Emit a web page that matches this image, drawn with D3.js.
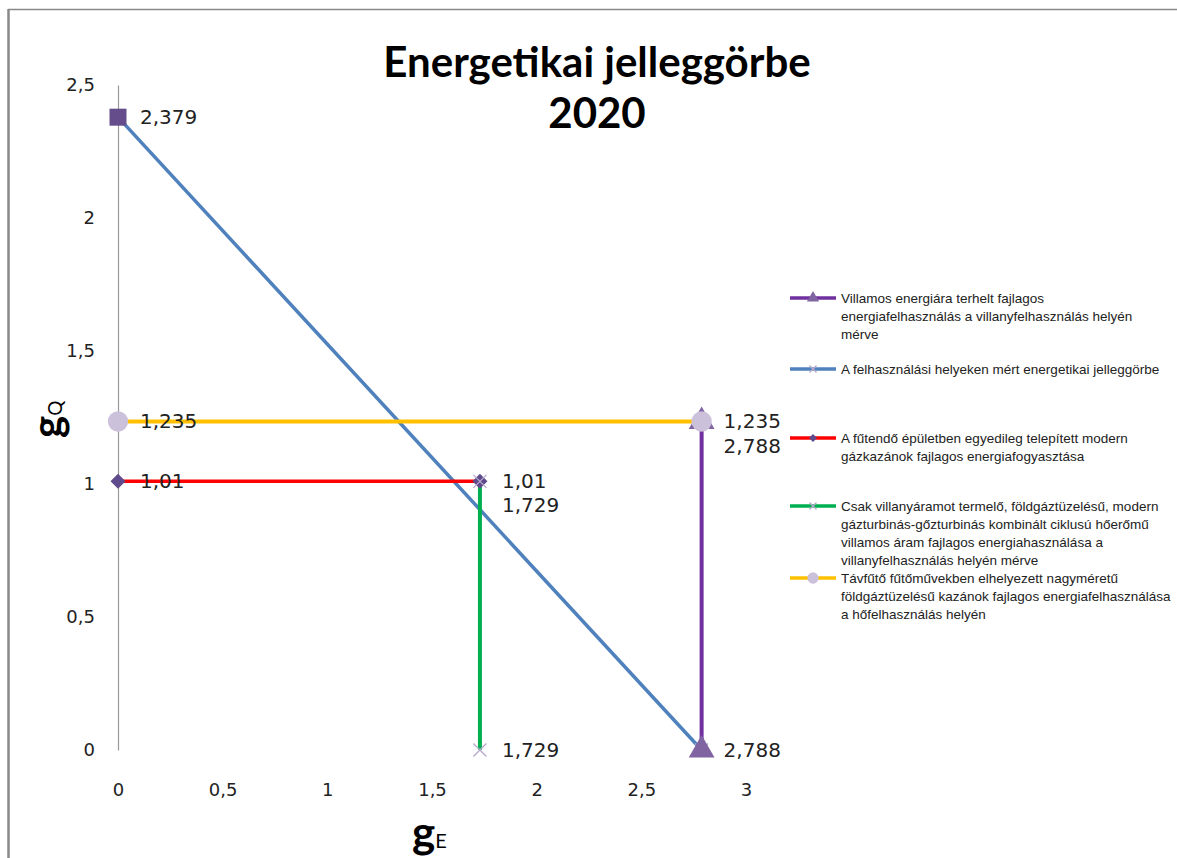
<!DOCTYPE html>
<html lang="hu">
<head>
<meta charset="UTF-8">
<script src="https://d3js.org/d3.v7.min.js"></script>
<title>Energetikai jelleggörbe</title>
<style>
  body { margin: 0; background: #fff; }
  svg { display: block; }
  .tick text { font-family: "DejaVu Sans", sans-serif; font-size: 18px; fill: #222; }
  .lbl { font-family: "DejaVu Sans", sans-serif; font-size: 20px; fill: #222; }
  .leg { font-family: "Liberation Sans", sans-serif; font-size: 13.5px; fill: #222; }
</style>
</head>
<body>
<svg width="1177" height="858"></svg>
<script>
// series: name, x values, y values, labels shown at each point
const seriesNames = [
  "Villamos energiára terhelt fajlagos|energiafelhasználás a villanyfelhasználás helyén|mérve",
  "A felhasználási helyeken mért energetikai jelleggörbe",
  "A fűtendő épületben egyedileg telepített modern|gázkazánok fajlagos energiafogyasztása",
  "Csak villanyáramot termelő, földgáztüzelésű, modern|gázturbinás-gőzturbinás kombinált ciklusú hőerőmű|villamos áram fajlagos energiahasználása a|villanyfelhasználás helyén mérve",
  "Távfűtő fűtőművekben elhelyezett nagyméretű|földgáztüzelésű kazánok fajlagos energiafelhasználása|a hőfelhasználás helyén"
];
const purpleX = [2.788, 2.788], purpleY = [0, 1.235];
const blueX = [0, 2.788],       blueY = [2.379, 0];
const redX = [0, 1.729],        redY = [1.01, 1.01];
const greenX = [1.729, 1.729],  greenY = [0, 1.01];
const yellowX = [0, 2.788],     yellowY = [1.235, 1.235];
const purpleLabels = ["2,788", "2,788"];
const blueLabels = ["2,379", ""];
const redLabels = ["1,01", "1,01"];
const greenLabels = ["1,729", "1,729"];
const yellowLabels = ["1,235", "1,235"];
const xTicks = [0, 0.5, 1, 1.5, 2, 2.5, 3];
const yTicks = [0, 0.5, 1, 1.5, 2, 2.5];

const svg = d3.select("svg");
const x = d3.scaleLinear().domain([0, 3]).range([118, 746]);
const y = d3.scaleLinear().domain([0, 2.5]).range([750, 85]);
const fmt = d => String(d).replace(".", ",");

// frame
svg.append("line").attr("x1", 8).attr("x2", 1177).attr("y1", 9.5).attr("y2", 9.5).attr("stroke", "#888").attr("stroke-width", 1.5);
svg.append("line").attr("x1", 8.5).attr("x2", 8.5).attr("y1", 9).attr("y2", 858).attr("stroke", "#888").attr("stroke-width", 2.5);

// title
svg.append("text").attr("x", 597).attr("y", 77).attr("text-anchor", "middle")
  .style("font-family", "Lato, 'Open Sans', sans-serif").style("font-weight", "bold").style("font-size", "42px")
  .text("Energetikai jelleggörbe");
svg.append("text").attr("x", 597).attr("y", 128).attr("text-anchor", "middle")
  .style("font-family", "Lato, 'Open Sans', sans-serif").style("font-weight", "bold").style("font-size", "42px")
  .text("2020");

// axes
const yAxis = svg.append("g").attr("transform", `translate(${x(0)},0)`)
  .call(d3.axisLeft(y).tickValues(yTicks).tickFormat(fmt).tickSize(0).tickPadding(23));
yAxis.select(".domain").attr("stroke", "#999").attr("stroke-width", 1.2);
const xAxis = svg.append("g").attr("transform", `translate(0,${y(0)})`)
  .call(d3.axisBottom(x).tickValues(xTicks).tickFormat(fmt).tickSize(0).tickPadding(33));
xAxis.select(".domain").remove();

// axis titles
const gx = svg.append("text").attr("x", 412).attr("y", 848).style("font-family", "Lato, sans-serif");
gx.append("tspan").style("font-weight", "bold").style("font-size", "44px").text("g");
gx.append("tspan").style("font-size", "20px").text("E");
const gy = svg.append("text").attr("transform", "translate(62,438) rotate(-90)").style("font-family", "Lato, sans-serif");
gy.append("tspan").style("font-weight", "bold").style("font-size", "42px").text("g");
gy.append("tspan").style("font-size", "19px").text("Q");

const line = d3.line();
function drawLine(xs, ys, color, w) {
  svg.append("path").datum(xs.map((d, i) => [x(d), y(ys[i])]))
    .attr("d", line).attr("fill", "none").attr("stroke", color).attr("stroke-width", w);
}
function marker(g, type, px, py, fill, size) {
  if (type === "x") {
    const s = size / 2;
    g.append("path").attr("d", `M${px - s},${py - s}L${px + s},${py + s}M${px - s},${py + s}L${px + s},${py - s}`)
      .attr("stroke", fill).attr("stroke-width", 1.3);
  } else if (type === "diamond") {
    g.append("path").attr("d", d3.symbol(d3.symbolSquare, size * size / 2))
      .attr("transform", `translate(${px},${py}) rotate(45)`).attr("fill", fill);
  } else {
    const sym = { square: d3.symbolSquare, triangle: d3.symbolTriangle, circle: d3.symbolCircle }[type];
    g.append("path").attr("d", d3.symbol(sym, size * size)).attr("transform", `translate(${px},${py})`).attr("fill", fill);
  }
}
function drawMarkers(xs, ys, type, fill, size) {
  const g = svg.append("g");
  xs.forEach((d, i) => marker(g, type, x(d), y(ys[i]), fill, size));
}

drawLine(blueX, blueY, "#4F81BD", 3.5);
drawLine(purpleX, purpleY, "#7030A0", 4);
drawLine(redX, redY, "#FF0000", 3.5);
drawLine(greenX, greenY, "#00B050", 4);
drawLine(yellowX, yellowY, "#FFC000", 4);

drawMarkers(blueX, blueY, "x", "#B7A8CC", 13);
drawMarkers(purpleX, purpleY, "triangle", "#8064A2", 17);
drawMarkers(redX, redY, "diamond", "#5F4B8B", 15);
drawMarkers(greenX, greenY, "x", "#B7A8CC", 13);
drawMarkers(yellowX, yellowY, "circle", "#CCC1DA", 18);
drawMarkers([blueX[0]], [blueY[0]], "square", "#654C8B", 17);

// data labels
function drawLabels(xs, ys, labels, dy) {
  svg.append("g").selectAll("text").data(labels).join("text").attr("class", "lbl")
    .attr("x", (d, i) => x(xs[i]) + 22).attr("y", (d, i) => y(ys[i]) + dy[i] + 7).text(d => d);
}
drawLabels(blueX, blueY, blueLabels, [0, 0]);
drawLabels(yellowX, yellowY, yellowLabels, [0, 0]);
drawLabels(redX, redY, redLabels, [0, 0]);
drawLabels(greenX, greenY, greenLabels, [0, 24]);
drawLabels(purpleX, purpleY, purpleLabels, [0, 25]);

// legend
const legColors = ["#7030A0", "#4F81BD", "#FF0000", "#00B050", "#FFC000"];
const legMarkers = [["triangle", "#8064A2", 8], ["x", "#B7A8CC", 7], ["diamond", "#5F4B8B", 8], ["x", "#B7A8CC", 7], ["circle", "#CCC1DA", 10]];
const legY = [298, 369, 438, 506, 578];
const leg = svg.append("g");
seriesNames.forEach((name, i) => {
  const ly = legY[i];
  leg.append("line").attr("x1", 790).attr("x2", 836).attr("y1", ly).attr("y2", ly)
    .attr("stroke", legColors[i]).attr("stroke-width", 3.5);
  marker(leg, legMarkers[i][0], 813, ly, legMarkers[i][1], legMarkers[i][2]);
  name.split("|").forEach((t, j) => {
    leg.append("text").attr("class", "leg").attr("x", 841).attr("y", ly + 5 + j * 18).text(t);
  });
});
</script>
</body>
</html>
